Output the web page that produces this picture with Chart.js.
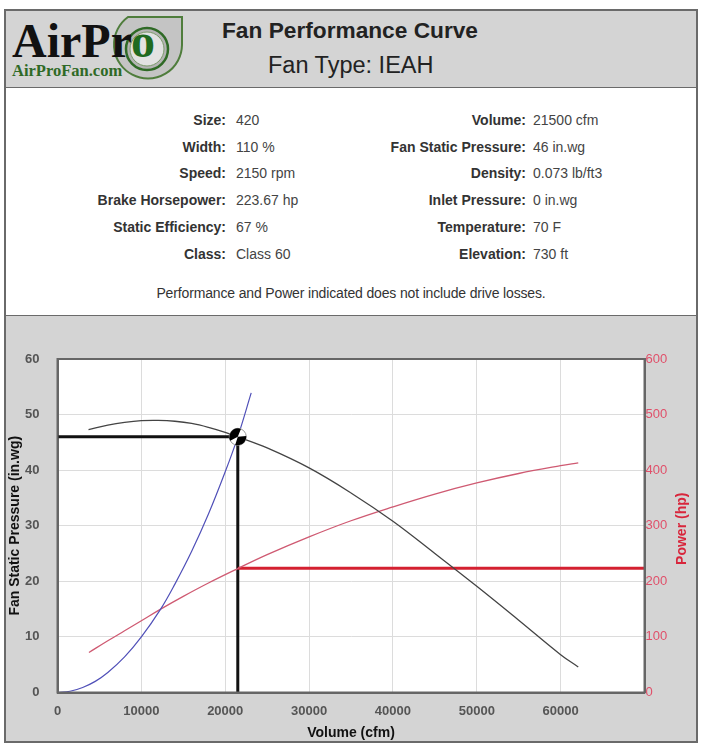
<!DOCTYPE html>
<html lang="en">
<head>
<meta charset="UTF-8">
<title>AirPro | Fan Performance Curve</title>
<style>
  body { margin:0; background:#fff; font-family:"Liberation Sans", Arial, sans-serif; color:#333; }
  .caixa { position:absolute; left:4px; width:694px; box-sizing:border-box; }
  .topo { top:9px; height:80px; background:#d4d4d4; border:2px solid #6a6a6a; }
  .info { top:88px; height:229px; background:#fff; border:2px solid #6a6a6a; border-top:none; }
  .graf { top:316px; height:427px; background:#d4d4d4; border:2px solid #6a6a6a; border-top:none; }
  .logo { position:absolute; left:4px; top:9px; }
  .titulo { position:absolute; left:222px; top:17px; font-size:22.7px; font-weight:bold; color:#222; }
  .tipo { position:absolute; left:268px; top:52px; font-size:23.5px; color:#222; }
  .rot { position:absolute; font-size:14px; font-weight:bold; color:#333; text-align:right; line-height:16px; }
  .val { position:absolute; font-size:14px; color:#444; line-height:16px; white-space:nowrap; }
  .nota { position:absolute; left:0; width:702px; top:285px; text-align:center; font-size:14px; color:#333; letter-spacing:-0.15px; }
  canvas { position:absolute; left:6px; top:316px; }
</style>
</head>
<body>
  <div class="caixa topo"></div>
  <div class="caixa info"></div>
  <div class="caixa graf"></div>

  <svg class="logo" width="190" height="80" viewBox="0 0 190 80">
    <path d="M124,8 L178,8 L178,36 A34,34 0 1,1 124,8 Z" fill="#c4c4c4" stroke="#4f7d3c" stroke-width="2"/>
    <circle cx="143" cy="40" r="21" fill="#b4b4b4" stroke="#2f6a26" stroke-width="2.5"/>
    <circle cx="143" cy="40" r="17" fill="#e2e2e2" stroke="#7a9a6a" stroke-width="1"/>
    <text x="8" y="48" font-family="Liberation Serif, Times New Roman, serif" font-weight="bold" font-size="48" fill="#111">AirPr<tspan fill="#1f6a1f">o</tspan></text>
    <text x="8" y="67" font-family="Liberation Serif, Times New Roman, serif" font-weight="bold" font-size="16.5" fill="#2f6a26">AirProFan.com</text>
  </svg>
  <div class="titulo">Fan Performance Curve</div>
  <div class="tipo">Fan Type: IEAH</div>

  <div id="dados"></div>
  <div class="nota">Performance and Power indicated does not include drive losses.</div>

  <canvas id="grafico" width="690" height="426"></canvas>

<script src="https://cdn.jsdelivr.net/npm/chart.js"></script>
<script>
    // textos da ficha tecnica
    var rotulosEsq = ['Size:', 'Width:', 'Speed:', 'Brake Horsepower:', 'Static Efficiency:', 'Class:'];
    var valoresEsq = ['420', '110 %', '2150 rpm', '223.67 hp', '67 %', 'Class 60'];
    var rotulosDir = ['Volume:', 'Fan Static Pressure:', 'Density:', 'Inlet Pressure:', 'Temperature:', 'Elevation:'];
    var valoresDir = ['21500 cfm', '46 in.wg', '0.073 lb/ft3', '0 in.wg', '70 F', '730 ft'];

    // curva do ventilador (pressao estatica, in.wg)
    var volumeFan = [3700, 6000, 8000, 10000, 12000, 14000, 16000, 18000, 20000, 21500, 25000, 30000, 35000, 40000, 45000, 50000, 55000, 60000, 62100];
    var pressaoFan = [47.3, 48.1, 48.6, 48.9, 48.95, 48.8, 48.4, 47.7, 46.8, 46.0, 44.0, 40.4, 35.9, 30.8, 25.0, 19.1, 13.0, 6.8, 4.6];

    // curva de potencia (hp)
    var volumePot = [3750, 6000, 8000, 10000, 12300, 15000, 18000, 21500, 25000, 30000, 35000, 40000, 45000, 50000, 55000, 60000, 62100];
    var potencia = [72, 93, 111, 129, 150, 173, 197, 223, 248, 280, 309, 334, 357, 377, 394, 408, 413];

    // curva do sistema
    var volumeSis = [0, 1500, 3000, 4500, 6000, 8000, 10000, 12300, 14000, 16000, 18000, 20000, 21500, 23100];
    var pressaoSis = [0, 0.22, 0.9, 2.0, 3.6, 6.4, 10.0, 15.0, 19.5, 25.4, 32.1, 39.7, 46.0, 53.9];

    // ponto de operacao
    var opVolume = 21500;
    var opPressao = 46;
    var opPotencia = 223.67;

    // eixos
    var ticksVolume = [0, 10000, 20000, 30000, 40000, 50000, 60000];
    var maxVolume = 70000;
    var maxPressao = 60;
    var maxPotencia = 600;

    // monta a ficha
    var dados = document.getElementById('dados');
    var linhasY = [120, 147, 173, 200, 227, 254];
    for (var i = 0; i < rotulosEsq.length; i++) {
        dados.innerHTML +=
            '<div class="rot" style="left:0;width:226px;top:' + (linhasY[i] - 8) + 'px">' + rotulosEsq[i] + '</div>' +
            '<div class="val" style="left:236px;top:' + (linhasY[i] - 8) + 'px">' + valoresEsq[i] + '</div>' +
            '<div class="rot" style="left:300px;width:226px;top:' + (linhasY[i] - 8) + 'px">' + rotulosDir[i] + '</div>' +
            '<div class="val" style="left:533px;top:' + (linhasY[i] - 8) + 'px">' + valoresDir[i] + '</div>';
    }

    function pares(xs, ys) {
        var lista = [];
        for (var i = 0; i < xs.length; i++) lista.push({x: xs[i], y: ys[i]});
        return lista;
    }

    var fundoBranco = {
        id: 'fundoBranco',
        beforeDraw: function (chart) {
            var a = chart.chartArea;
            chart.ctx.save();
            chart.ctx.fillStyle = '#fff';
            chart.ctx.fillRect(a.left, a.top, a.right - a.left, a.bottom - a.top);
            chart.ctx.restore();
        }
    };

    var extras = {
        id: 'extras',
        afterDatasetsDraw: function (chart) {
            var c = chart.ctx;
            var a = chart.chartArea;
            c.save();
            // moldura da area do grafico
            c.strokeStyle = '#666';
            c.lineWidth = 2;
            c.strokeRect(a.left, a.top, a.right - a.left, a.bottom - a.top);

            // marcador do ponto de operacao
            var px = chart.scales.x.getPixelForValue(opVolume);
            var py = chart.scales.y.getPixelForValue(opPressao);
            var r = 8.5;
            c.beginPath();
            c.arc(px, py, r, 0, Math.PI * 2);
            c.fillStyle = '#fff';
            c.fill();
            c.lineWidth = 1;
            c.strokeStyle = '#999';
            c.stroke();
            c.fillStyle = '#000';
            c.beginPath();
            c.moveTo(px, py);
            c.arc(px, py, r, Math.PI * 0.85, Math.PI * 1.62);
            c.closePath();
            c.fill();
            c.beginPath();
            c.moveTo(px, py);
            c.arc(px, py, r, -0.1, Math.PI * 0.6);
            c.closePath();
            c.fill();

            // titulo do eixo da direita
            c.translate(chart.scales.y2.right - 14, (a.top + a.bottom) / 2 + 3);
            c.rotate(-Math.PI / 2);
            c.fillStyle = '#d8263c';
            c.font = 'bold 14px "Liberation Sans", Arial, sans-serif';
            c.textAlign = 'center';
            c.textBaseline = 'middle';
            c.fillText('Power (hp)', 0, 0);
            c.restore();
        }
    };

    new Chart(document.getElementById('grafico'), {
        type: 'scatter',
        data: {
            datasets: [{
                data: pares([0, opVolume, opVolume], [opPressao, opPressao, 0]),
                yAxisID: 'y',
                showLine: true,
                borderColor: '#111',
                borderWidth: 3,
                pointRadius: 0,
                order: 5
            }, {
                data: pares([opVolume, maxVolume], [opPotencia, opPotencia]),
                yAxisID: 'y2',
                showLine: true,
                borderColor: '#d42030',
                borderWidth: 3,
                pointRadius: 0,
                order: 4
            }, {
                data: pares(volumePot, potencia),
                yAxisID: 'y2',
                showLine: true,
                tension: 0.4,
                borderColor: '#cf5a72',
                borderWidth: 1.3,
                pointRadius: 0,
                order: 3
            }, {
                data: pares(volumeFan, pressaoFan),
                yAxisID: 'y',
                showLine: true,
                tension: 0.4,
                borderColor: '#444',
                borderWidth: 1.3,
                pointRadius: 0,
                order: 2
            }, {
                data: pares(volumeSis, pressaoSis),
                yAxisID: 'y',
                showLine: true,
                tension: 0.4,
                borderColor: '#5050b8',
                borderWidth: 1.2,
                pointRadius: 0,
                order: 1
            }]
        },
        options: {
            responsive: false,
            animation: false,
            layout: { padding: { top: 43 } },
            plugins: { legend: { display: false }, tooltip: { enabled: false } },
            scales: {
                x: {
                    type: 'linear',
                    min: 0,
                    max: maxVolume,
                    afterBuildTicks: function (s) {
                        s.ticks = ticksVolume.concat([maxVolume]).map(function (v) { return {value: v}; });
                    },
                    ticks: {
                        padding: 11,
                        color: '#555',
                        font: { size: 13, weight: 'bold', family: '"Liberation Sans", Arial' },
                        callback: function (v) { return v < maxVolume ? String(v) : ''; }
                    },
                    grid: { color: '#dcdcdc', drawTicks: false },
                    border: { color: '#666', width: 2 },
                    title: {
                        display: true,
                        text: 'Volume (cfm)',
                        color: '#111',
                        font: { size: 14, weight: 'bold', family: '"Liberation Sans", Arial' },
                        padding: { top: 0, bottom: 0 }
                    },
                    afterFit: function (s) { s.height = 49.5; }
                },
                y: {
                    position: 'left',
                    min: 0,
                    max: maxPressao,
                    ticks: {
                        stepSize: 10,
                        padding: 18,
                        color: '#555',
                        font: { size: 13, weight: 'bold', family: '"Liberation Sans", Arial' }
                    },
                    grid: { color: '#dcdcdc', drawTicks: false },
                    border: { color: '#666', width: 2 },
                    title: {
                        display: true,
                        text: 'Fan Static Pressure (in.wg)',
                        color: '#111',
                        font: { size: 14, weight: 'bold', family: '"Liberation Sans", Arial' },
                        padding: { top: 1, bottom: 0 }
                    },
                    afterFit: function (s) { s.width = 51.5; }
                },
                y2: {
                    position: 'right',
                    min: 0,
                    max: maxPotencia,
                    ticks: {
                        stepSize: 100,
                        padding: 1,
                        color: '#e0506a',
                        font: { size: 13, family: '"Liberation Sans", Arial' }
                    },
                    grid: { display: false, drawTicks: false },
                    border: { color: '#666', width: 2 },
                    afterFit: function (s) { s.width = 51.5; }
                }
            }
        },
        plugins: [fundoBranco, extras]
    });
</script>
</body>
</html>
